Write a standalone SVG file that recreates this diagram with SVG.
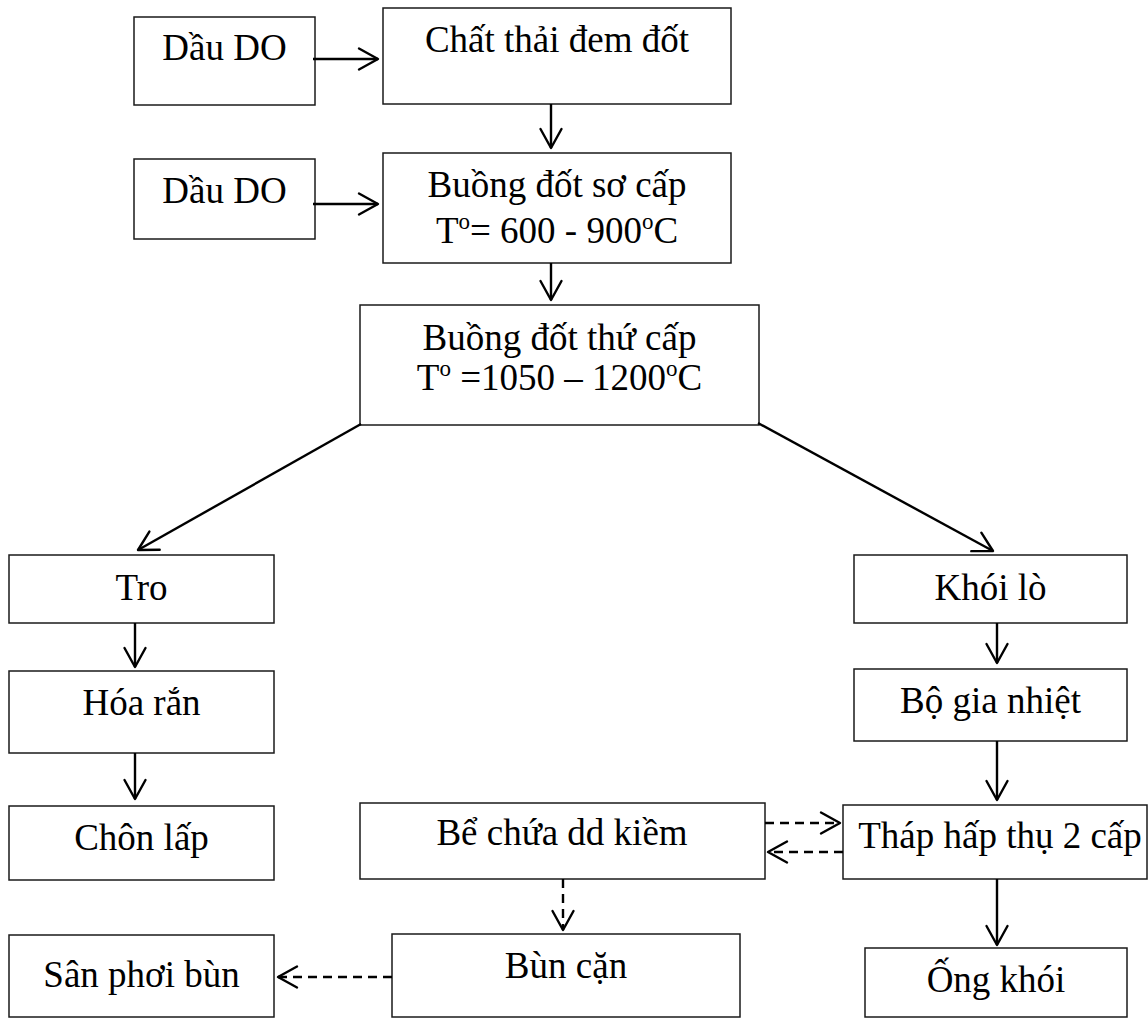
<svg xmlns="http://www.w3.org/2000/svg" width="1148" height="1019" viewBox="0 0 1148 1019">
  <style>
    .box { fill: #fff; stroke: #1a1a1a; stroke-width: 1.5; }
    .lbl { font-family: "Liberation Serif", "Times New Roman", serif; font-size: 37px; fill: #000; text-anchor: middle; }
    .sup { font-size: 23px; }
    .flow { fill: none; stroke: #000; stroke-width: 2.4; marker-end: url(#head); }
    .dash { stroke-dasharray: 9 6; }
    .chev { fill: none; stroke: #000; stroke-width: 2.4; stroke-linecap: round; stroke-linejoin: round; }
  </style>
  <defs>
    <marker id="head" markerUnits="userSpaceOnUse" viewBox="-24 -14 28 28" markerWidth="28" markerHeight="28" refX="0" refY="0" orient="auto" overflow="visible">
      <path class="chev" d="M -19 -10.5 L 0 0 L -19 10.5"/>
    </marker>
  </defs>

  <rect width="1148" height="1019" fill="#fff"/>

  <!-- nodes -->
  <g id="dau-do-1">
    <rect class="box" x="134" y="17" width="181" height="88"/>
    <text class="lbl" x="224.5" y="60">Dầu DO</text>
  </g>
  <g id="chat-thai">
    <rect class="box" x="383" y="8" width="348" height="96"/>
    <text class="lbl" x="557" y="52">Chất thải đem đốt</text>
  </g>
  <g id="dau-do-2">
    <rect class="box" x="134" y="159" width="181" height="80"/>
    <text class="lbl" x="224.5" y="203">Dầu DO</text>
  </g>
  <g id="buong-so-cap">
    <rect class="box" x="383" y="153" width="348" height="110"/>
    <text class="lbl" x="557" y="197">Buồng đốt sơ cấp</text>
    <text class="lbl" x="557" y="243">T<tspan class="sup" dy="-14">o</tspan><tspan dy="14">= 600 - 900</tspan><tspan class="sup" dy="-14">o</tspan><tspan dy="14">C</tspan></text>
  </g>
  <g id="buong-thu-cap">
    <rect class="box" x="360" y="305" width="399" height="120"/>
    <text class="lbl" x="559.5" y="350">Buồng đốt thứ cấp</text>
    <text class="lbl" x="559.5" y="390">T<tspan class="sup" dy="-14">o</tspan><tspan dy="14"> =1050 – 1200</tspan><tspan class="sup" dy="-14">o</tspan><tspan dy="14">C</tspan></text>
  </g>
  <g id="tro">
    <rect class="box" x="9" y="555" width="265" height="68"/>
    <text class="lbl" x="141.5" y="600">Tro</text>
  </g>
  <g id="hoa-ran">
    <rect class="box" x="9" y="671" width="265" height="82"/>
    <text class="lbl" x="141.5" y="715">Hóa rắn</text>
  </g>
  <g id="chon-lap">
    <rect class="box" x="9" y="806" width="265" height="74"/>
    <text class="lbl" x="141.5" y="850">Chôn lấp</text>
  </g>
  <g id="san-phoi-bun">
    <rect class="box" x="9" y="935" width="265" height="82"/>
    <text class="lbl" x="141.5" y="987">Sân phơi bùn</text>
  </g>
  <g id="khoi-lo">
    <rect class="box" x="854" y="555" width="273" height="68"/>
    <text class="lbl" x="990.5" y="600">Khói lò</text>
  </g>
  <g id="bo-gia-nhiet">
    <rect class="box" x="854" y="669" width="273" height="72"/>
    <text class="lbl" x="990.5" y="713">Bộ gia nhiệt</text>
  </g>
  <g id="thap-hap-thu">
    <rect class="box" x="843" y="805" width="304" height="74"/>
    <text class="lbl" x="1000" y="848">Tháp hấp thụ 2 cấp</text>
  </g>
  <g id="ong-khoi">
    <rect class="box" x="865" y="948" width="262" height="69"/>
    <text class="lbl" x="996" y="992">Ống khói</text>
  </g>
  <g id="be-chua">
    <rect class="box" x="360" y="803" width="405" height="76"/>
    <text class="lbl" x="562" y="845">Bể chứa dd kiềm</text>
  </g>
  <g id="bun-can">
    <rect class="box" x="392" y="934" width="348" height="83"/>
    <text class="lbl" x="566" y="978">Bùn cặn</text>
  </g>

  <!-- connectors -->
  <g id="connectors">
    <line class="flow" x1="313" y1="59" x2="378" y2="59"/>
    <line class="flow" x1="313" y1="204" x2="378" y2="204"/>
    <line class="flow" x1="551" y1="104" x2="551" y2="148"/>
    <line class="flow" x1="551" y1="263" x2="551" y2="300"/>
    <line class="flow" x1="361" y1="424" x2="138" y2="550"/>
    <line class="flow" x1="758" y1="423" x2="993" y2="551"/>
    <line class="flow" x1="135" y1="623" x2="135" y2="667"/>
    <line class="flow" x1="135" y1="753" x2="135" y2="799"/>
    <line class="flow" x1="997" y1="623" x2="997" y2="663"/>
    <line class="flow" x1="997" y1="741" x2="997" y2="800"/>
    <line class="flow" x1="997" y1="879" x2="997" y2="945"/>
    <line class="flow dash" x1="765" y1="823" x2="840" y2="823"/>
    <line class="flow dash" x1="843" y1="852" x2="768" y2="852"/>
    <line class="flow dash" x1="563" y1="879" x2="563" y2="930"/>
    <line class="flow dash" x1="392" y1="977" x2="278" y2="977"/>
  </g>
</svg>
